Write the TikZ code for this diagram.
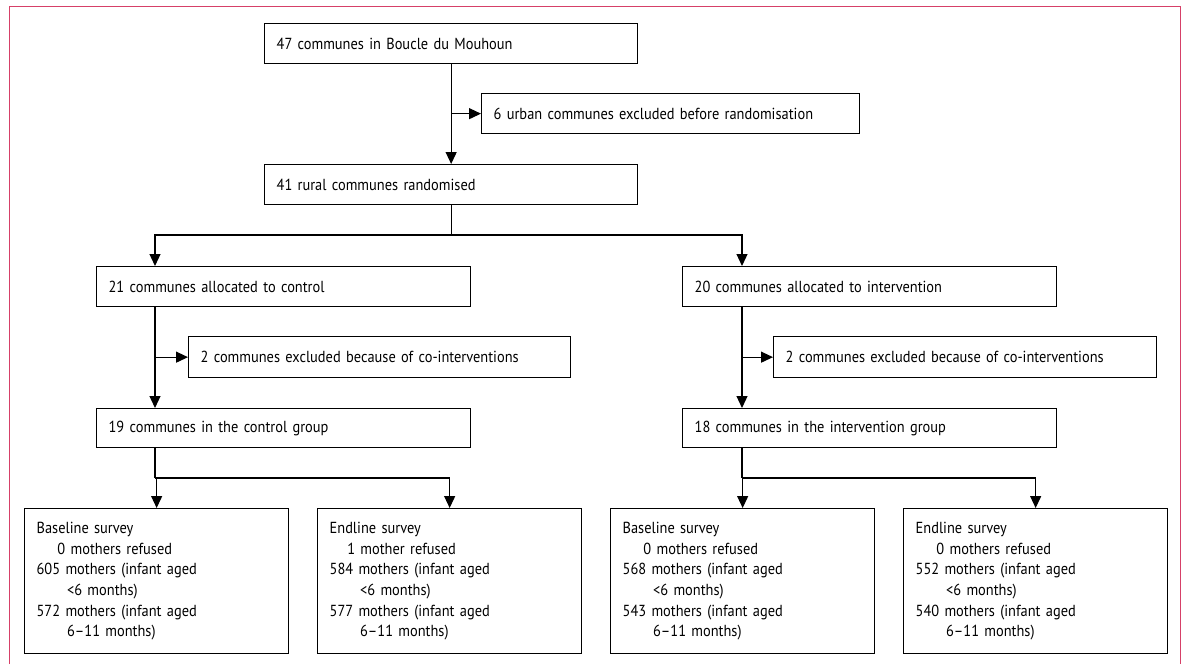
\documentclass[tikz,border=0pt]{standalone}
\usepackage{fontspec}
\setmainfont{PT Sans}[FakeStretch=0.9]
\usepackage{xcolor}
\usetikzlibrary{arrows.meta,positioning}
\definecolor{framepink}{RGB}{214,64,104}

\begin{document}
\begin{tikzpicture}[x=1pt,y=-1pt,font=\fontsize{16pt}{20.7pt}\selectfont]
        \tikzstyle{flowbox}=[draw, black, line width=1.3pt, inner xsep=12pt, inner ysep=0pt, minimum height=40pt, align=left, anchor=north west]
        \tikzstyle{flowarr}=[black, line width=1.2pt, -{Triangle[length=12pt,width=11pt]}]
        \tikzstyle{flowline}=[black, line width=1.2pt]
        \useasboundingbox (0,0) rectangle (1182,664);
        \draw [framepink, line width=1pt] (9,664) -- (9,6) -- (1180,6) -- (1180,664);
        \node [flowbox, text width=349pt] (mouhoun) at (264,23) {47 communes in Boucle du Mouhoun};
        \node [flowbox, text width=354pt] (urban) at (481,93) {6 urban communes excluded before randomisation};
        \node [flowbox, text width=349pt] (rural) at (264,164) {41 rural communes randomised};
        \node [flowbox, text width=350pt] (control) at (96,266) {21 communes allocated to control};
        \node [flowbox, text width=350pt] (interv) at (682,266) {20 communes allocated to intervention};
        \node [flowbox, text width=358pt, minimum height=41pt] (exclctrl) at (188,336) {2 communes excluded because of co-interventions};
        \node [flowbox, text width=359pt, minimum height=41pt] (exclint) at (773,336) {2 communes excluded because of co-interventions};
        \node [flowbox, text width=350pt, minimum height=39pt] (groupctrl) at (96,408) {19 communes in the control group};
        \node [flowbox, text width=350pt, minimum height=39pt] (groupint) at (682,408) {18 communes in the intervention group};
        \node [flowbox, text width=240pt, minimum height=145pt] (basectrl) at (24,508) {Baseline survey\\\hspace*{1.3em}0 mothers refused\\605 mothers (infant aged\\\hspace*{1.9em}<6 months)\\572 mothers (infant aged\\\hspace*{1.9em}6–11 months)};
        \node [flowbox, text width=240pt, minimum height=145pt] (endctrl) at (317,508) {Endline survey\\\hspace*{1.1em}1 mother refused\\584 mothers (infant aged\\\hspace*{1.9em}<6 months)\\577 mothers (infant aged\\\hspace*{1.9em}6–11 months)};
        \node [flowbox, text width=240pt, minimum height=145pt] (baseint) at (610,508) {Baseline survey\\\hspace*{1.3em}0 mothers refused\\568 mothers (infant aged\\\hspace*{1.9em}<6 months)\\543 mothers (infant aged\\\hspace*{1.9em}6–11 months)};
        \node [flowbox, text width=240pt, minimum height=145pt] (endint) at (903,508) {Endline survey\\\hspace*{1.3em}0 mothers refused\\552 mothers (infant aged\\\hspace*{1.9em}<6 months)\\540 mothers (infant aged\\\hspace*{1.9em}6–11 months)};
        \coordinate (ctrlcol) at ([xshift=59pt]control.north west);
        \coordinate (intcol) at ([xshift=60pt]interv.north west);
        \coordinate (split) at (rural.south |- 0,235);
        \coordinate (splitctrl) at (ctrlcol |- 0,478);
        \coordinate (splitint) at (intcol |- 0,478);
        \draw [flowarr] (mouhoun.south) -- (rural.north);
        \draw [flowarr] (mouhoun.south |- urban.west) -- (urban.west);
        \draw [flowline] (rural.south) -- (split);
        \draw [flowarr] (split) -| (ctrlcol);
        \draw [flowarr] (split) -| (intcol);
        \draw [flowarr] (ctrlcol |- control.south) -- (ctrlcol |- groupctrl.north);
        \draw [flowarr] (ctrlcol |- exclctrl.west) -- (exclctrl.west);
        \draw [flowarr] (intcol |- interv.south) -- (intcol |- groupint.north);
        \draw [flowarr] (intcol |- exclint.west) -- (exclint.west);
        \draw [flowline] (ctrlcol |- groupctrl.south) -- (splitctrl);
        \draw [flowarr] (splitctrl) -| (basectrl.north);
        \draw [flowarr] (splitctrl) -| (endctrl.north);
        \draw [flowline] (intcol |- groupint.south) -- (splitint);
        \draw [flowarr] (splitint) -| (baseint.north);
        \draw [flowarr] (splitint) -| (endint.north);
\end{tikzpicture}
\end{document}
